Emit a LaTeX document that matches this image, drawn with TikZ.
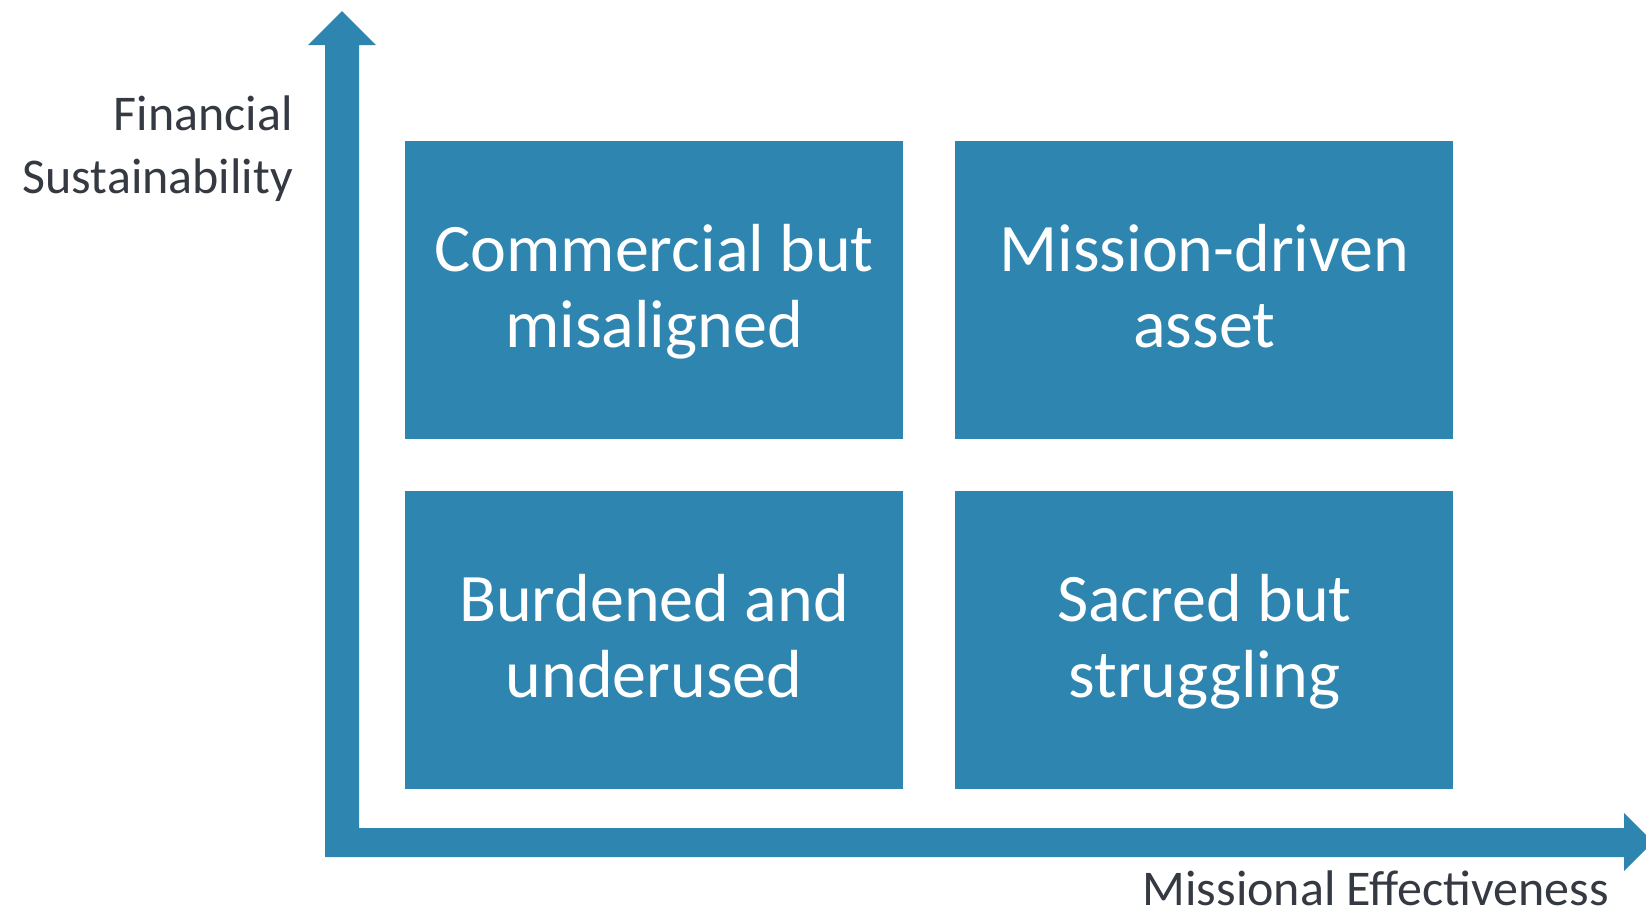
\documentclass[tikz,border=0pt]{standalone}
\usepackage{fontspec}
\setmainfont{Carlito}
\usepackage{tikz}
\usetikzlibrary{positioning}

\definecolor{quadblue}{RGB}{46,133,175}
\definecolor{labelgray}{RGB}{52,57,66}

% same line box for every quadrant text
\newcommand\qstrut{\rule[-19pt]{0pt}{76pt}}

\tikzset{
  quad/.style={rectangle, fill=quadblue, minimum width=498pt, minimum height=298pt,
    inner sep=0pt, text=white, align=center, font=\fontsize{68}{76}\selectfont},
  axislabel/.style={text=labelgray, inner sep=0pt, font=\fontsize{50}{63}\selectfont},
  axisarrow/.style={fill=quadblue, draw=none}
}

\begin{document}
\begin{tikzpicture}[x=1pt,y=-1pt]
          \useasboundingbox (0,0) rectangle (1646,914);

          % the two axes as one L-shaped arrow
          \fill[axisarrow] (325,857) -- (325,45) -- (308,45) -- (342,11) -- (376,45)
               -- (359,45) -- (359,828) -- (1624,828) -- (1624,813) -- (1653,842)
               -- (1624,871) -- (1624,857) -- cycle;

          % axis labels
          \node[axislabel, anchor=east, align=right] (ylab) at (293,149) {Financial\\Sustainability};
          \node[axislabel, anchor=base east, text depth=0pt] (xlab) at (1609,905) {Missional Effectiveness};

          % the four quadrants
          \node[quad] (commercial) at (654,290) {\qstrut Commercial but\\\qstrut misaligned};
          \node[quad, right=52pt of commercial] (mission) {\qstrut Mission-driven\\\qstrut asset};
          \node[quad, below=52pt of commercial] (burdened) {\qstrut Burdened and\\\qstrut underused};
          \node[quad, below=52pt of mission] (sacred) {\qstrut Sacred but\\\qstrut struggling};
      \end{tikzpicture}
\end{document}
